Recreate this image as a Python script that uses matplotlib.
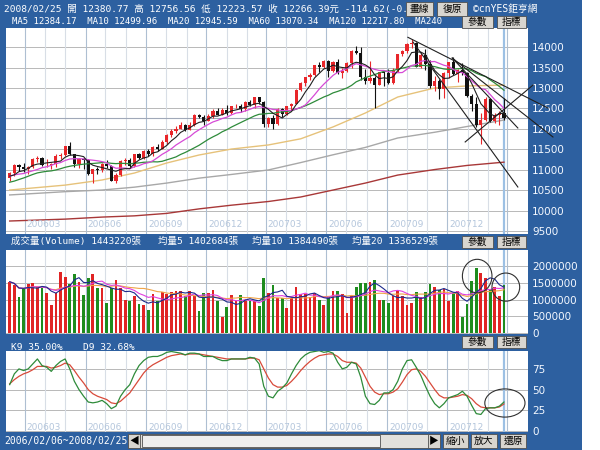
import numpy as np
import pandas as pd
import matplotlib
matplotlib.use('Agg')
import matplotlib.pyplot as plt
import matplotlib.transforms as mtransforms
from matplotlib.patches import Rectangle, Ellipse

BLUE = '#2d60a0'
MONO = ['DejaVu Sans Mono', 'Noto Sans CJK TC']
CJK = ['Noto Sans CJK TC', 'DejaVu Sans']

# weekly bars, first week 2006/02/06, last 2008/02/25
start = pd.Timestamp('2006-02-06')

prior_closes = [10569, 10292, 10288, 10215, 10403, 10531, 10686, 10766, 10931, 10878,
                10779, 10876, 10883, 10718, 10959, 10960, 10667, 10907, 10793]

opens = [10793, 10919, 11115, 11061, 11022, 11076, 11279, 11280, 11109, 11120,
         11138, 11347, 11367, 11577, 11380, 11144, 11278, 11247, 10891, 11014,
         10990, 11150, 11090, 10739, 10868, 11219, 11240, 11088, 11381, 11284,
         11464, 11392, 11560, 11509, 11679, 11850, 11960, 12002, 12090, 11986,
         12108, 12342, 12280, 12194, 12307, 12445, 12343, 12463, 12398, 12556,
         12565, 12487, 12653, 12581, 12768, 12647, 12114, 12276, 12110, 12481,
         12354, 12560, 12612, 12962, 13120, 13265, 13327, 13556, 13507, 13668,
         13424, 13639, 13360, 13409, 13611, 13908, 13851, 13265, 13182, 13240,
         13079, 13379, 13358, 13113, 13442, 13820, 13896, 14066, 14093, 13522,
         13807, 13595, 13043, 13177, 12980, 13372, 13626, 13340, 13450, 13366,
         12800, 12607, 12100, 12207, 12743, 12183, 12348, 12380.77]
highs = [10950, 11137, 11140, 11160, 11100, 11300, 11330, 11320, 11260, 11180,
         11380, 11420, 11590, 11670, 11390, 11300, 11300, 11260, 11030, 11060,
         11180, 11250, 11120, 10920, 11240, 11300, 11300, 11400, 11420, 11490,
         11500, 11580, 11630, 11720, 11880, 11990, 12070, 12170, 12130, 12170,
         12360, 12370, 12340, 12360, 12480, 12520, 12510, 12580, 12560, 12600,
         12620, 12680, 12700, 12780, 12790, 12690, 12300, 12330, 12500, 12520,
         12570, 12630, 12970, 13140, 13280, 13360, 13560, 13630, 13690, 13690,
         13660, 13700, 13500, 13630, 13920, 14020, 14000, 13470, 13660, 13300,
         13400, 13400, 13460, 13480, 13840, 13930, 14090, 14200, 14120, 13850,
         13960, 13680, 13300, 13220, 13380, 13640, 13750, 13470, 13600, 13400,
         12850, 12780, 12400, 12770, 12750, 12400, 12440, 12756.56]
lows = [10730, 10860, 10980, 10960, 10900, 11050, 11200, 11100, 11080, 11030,
        11060, 11260, 11330, 11360, 11080, 11050, 11030, 10880, 10690, 10900,
        10940, 11050, 10720, 10680, 10850, 11120, 11060, 11080, 11260, 11270,
        11330, 11340, 11460, 11500, 11640, 11810, 11900, 11990, 11940, 11980,
        12080, 12260, 12090, 12190, 12270, 12330, 12330, 12340, 12360, 12520,
        12420, 12440, 12570, 12500, 12620, 12050, 12040, 12000, 12100, 12280,
        12350, 12470, 12600, 12920, 13060, 13200, 13300, 13400, 13500, 13270,
        13400, 13330, 13250, 13400, 13500, 13830, 13200, 13100, 13120, 12520,
        13070, 13050, 13100, 13100, 13400, 13770, 13850, 13980, 13520, 13480,
        13450, 13000, 12930, 12720, 12750, 13250, 13320, 13150, 13320, 12780,
        12430, 12040, 11630, 12200, 12170, 12150, 12100, 12223.57]
closes = [10919, 11115, 11061, 11022, 11076, 11279, 11280, 11109, 11120, 11138,
          11347, 11367, 11577, 11380, 11144, 11278, 11247, 10891, 11014, 10990,
          11150, 11090, 10739, 10868, 11219, 11240, 11088, 11381, 11284, 11464,
          11392, 11560, 11509, 11679, 11850, 11960, 12002, 12090, 11986, 12108,
          12342, 12280, 12194, 12307, 12445, 12343, 12463, 12398, 12556, 12565,
          12487, 12653, 12581, 12768, 12647, 12114, 12276, 12110, 12481, 12354,
          12560, 12612, 12962, 13120, 13265, 13327, 13556, 13507, 13668, 13424,
          13639, 13360, 13409, 13611, 13908, 13851, 13265, 13182, 13240, 13079,
          13379, 13358, 13113, 13442, 13820, 13896, 14066, 14093, 13522, 13807,
          13595, 13043, 13177, 12980, 13372, 13626, 13340, 13450, 13366, 12800,
          12607, 12100, 12207, 12743, 12183, 12348, 12381, 12266.39]

# long moving averages at a few weeks
ma_weeks = [0, 12, 20, 27, 34, 41, 48, 56, 63, 70, 77, 84, 92, 99, 107]
ma60 = [10510, 10630, 10755, 10925, 11170, 11365, 11510, 11610, 11760, 12050, 12390, 12780, 13000, 13050, 13070]
ma120 = [10390, 10470, 10510, 10580, 10680, 10800, 10890, 11000, 11180, 11370, 11550, 11780, 11920, 12060, 12218]
ma240 = [9754, 9800, 9850, 9880, 9940, 10050, 10140, 10230, 10340, 10510, 10680, 10875, 11010, 11110, 11190]

# volume in millions of 張
volume_m = [1.53, 1.43, 1.07, 1.30, 1.45, 1.50, 1.37, 1.33, 1.20, 0.85,
            1.20, 1.83, 1.68, 1.45, 1.77, 1.53, 1.12, 1.63, 1.77, 1.35,
            1.35, 0.90, 1.35, 1.58, 1.35, 1.00, 0.95, 1.10, 0.87, 0.83,
            0.70, 1.15, 0.95, 1.23, 1.15, 1.22, 1.25, 1.25, 1.10, 1.25,
            1.10, 0.65, 1.18, 1.18, 1.27, 0.95, 0.47, 0.77, 1.12, 0.95,
            1.12, 0.95, 0.97, 0.95, 0.80, 1.65, 1.20, 1.43, 1.05, 1.05,
            0.75, 1.05, 1.37, 1.17, 1.17, 1.07, 1.18, 1.00, 0.85, 1.07,
            1.25, 1.25, 1.15, 0.60, 1.10, 1.38, 1.50, 1.48, 1.53, 1.57,
            1.00, 1.00, 0.90, 1.10, 1.27, 1.10, 0.85, 0.90, 1.23, 1.07,
            1.23, 1.47, 1.37, 1.27, 1.30, 0.95, 1.20, 1.25, 0.47, 0.87,
            1.55, 1.95, 1.80, 1.63, 1.30, 1.37, 1.10, 1.44]

k_vals = [56, 69, 75, 73, 75, 81, 87, 79, 77, 72, 79, 84, 87, 75, 60, 50, 42, 35, 34, 35,
          37, 33, 27, 30, 42, 50, 56, 69, 79, 85, 89, 90, 90, 92, 95, 96, 95, 94, 92, 94,
          94, 93, 90, 90, 90, 87, 85, 85, 87, 87, 87, 87, 89, 88, 81, 54, 42, 40, 48, 52,
          58, 69, 79, 87, 92, 95, 96, 97, 95, 96, 94, 83, 75, 77, 83, 81, 65, 42, 33, 32,
          37, 46, 46, 50, 60, 75, 85, 86, 77, 67, 54, 42, 33, 28, 33, 40, 42, 44, 48, 42,
          31, 21, 20, 27, 28, 28, 30, 35.00]
d_vals = [57, 62, 66, 69, 71, 74, 78, 78, 78, 76, 77, 79, 82, 80, 73, 65, 58, 50, 45, 42,
          40, 38, 34, 33, 36, 41, 46, 54, 62, 70, 76, 80, 83, 86, 89, 91, 92, 93, 92, 93,
          93, 93, 92, 91, 90, 89, 88, 87, 87, 87, 87, 87, 88, 88, 86, 75, 64, 56, 53, 53,
          55, 60, 66, 73, 79, 84, 88, 91, 92, 93, 93, 90, 85, 83, 83, 82, 76, 65, 54, 47,
          44, 45, 45, 47, 51, 59, 68, 74, 75, 72, 66, 58, 50, 43, 40, 40, 41, 42, 44, 43,
          39, 33, 29, 28, 28, 28, 29, 32.68]

# hand drawn trend lines: (week, price) -> (week, price)
trend_lines = [((86.2, 14237), (116.5, 12512)),
               ((95.8, 13732), (117.6, 11804)),
               ((87.3, 14122), (110.0, 10584)),
               ((95.8, 13732), (110.0, 12024)),
               ((98.6, 11683), (113.3, 13073))]

n = len(closes)
x = np.arange(n)
o = np.array(opens); h = np.array(highs); l = np.array(lows); c = np.array(closes)
up = c >= o
all_close = pd.Series(prior_closes + closes)
ma5 = all_close.rolling(5).mean().values[-n:]
ma10 = all_close.rolling(10).mean().values[-n:]
ma20 = all_close.rolling(20).mean().values[-n:]
vol = pd.Series(np.array(volume_m) * 1e6)
vma5 = vol.rolling(5, min_periods=1).mean()
vma10 = vol.rolling(10, min_periods=1).mean()
vma20 = vol.rolling(20, min_periods=1).mean()

months = pd.date_range('2006-03-01', '2008-03-01', freq='MS')
month_x = [(m - start).days / 7 for m in months]

fig = plt.figure(figsize=(6, 4.5), dpi=100, facecolor=BLUE)
fx = lambda px: px / 600
fy = lambda py: 1 - py / 450

ax1 = fig.add_axes([fx(6), fy(234), 522 / 600, 206 / 450])
ax2 = fig.add_axes([fx(6), fy(334), 522 / 600, 84 / 450])
ax3 = fig.add_axes([fx(6), fy(432), 522 / 600, 81 / 450])


def base(ax, ticks, labels):
    ax.set_facecolor('white')
    for s in ax.spines.values():
        s.set_visible(False)
    ax.set_xlim(-0.8, 112.2)
    ax.set_xticks([])
    ax.yaxis.tick_right()
    ax.set_yticks(ticks)
    ax.set_yticklabels(labels)
    ax.tick_params(axis='y', length=0, pad=3, labelcolor='#f4f8ff', labelsize=7.5)
    for t in ticks:
        ax.axhline(t, color='#b8b8b8', lw=0.7, zorder=0)
    for m, d in zip(month_x, months):
        quarter = d.month % 3 == 0
        ax.axvline(m, color='#aebfd2' if quarter else '#d8dee6', lw=0.8, zorder=0)
    ax.axvline(n - 1, color='#9cc0e4', lw=1.6, zorder=0.5)


def quarter_labels(ax, yfrac):
    tr = mtransforms.blended_transform_factory(ax.transData, ax.transAxes)
    for m, d in zip(month_x, months):
        if d.month % 3 == 0 and m < 105:
            ax.text(m + 0.4, yfrac, f'{d.year}{d.month:02d}', transform=tr,
                    color='#b4c6dc', fontsize=6.5, va='center', ha='left')


# price panel
pticks = list(range(9500, 14001, 500))
base(ax1, pticks, [str(t) for t in pticks])
ax1.set_ylim(9437, 14464)
ax1.axhline(closes[-1], color='#a0a8b8', lw=0.8, zorder=0.5)
quarter_labels(ax1, 0.045)
ax1.plot(ma_weeks, ma240, color='#a83838', lw=1.0, zorder=1)
ax1.plot(ma_weeks, ma120, color='#a8a8a8', lw=1.0, zorder=1)
ax1.plot(ma_weeks, ma60, color='#e6c27a', lw=1.0, zorder=1)
cc = np.where(up, '#e8262a', '#111111')
ax1.vlines(x, l, h, color=cc, lw=0.8, zorder=2)
ax1.bar(x, np.maximum(np.abs(c - o), 8), bottom=np.minimum(o, c), width=0.68,
        color=cc, zorder=2)
ax1.plot(x, ma20, color='#2e8b3a', lw=0.9, zorder=3)
ax1.plot(x, ma10, color='#d64ad6', lw=0.9, zorder=3)
ax1.plot(x, ma5, color='#202020', lw=0.8, zorder=3)
for (x0, y0), (x1, y1) in trend_lines:
    ax1.plot([x0, x1], [y0, y1], color='#202020', lw=0.8, zorder=4, clip_on=False)

# volume panel
vticks = [0, 500000, 1000000, 1500000, 2000000]
base(ax2, vticks, [str(t) for t in vticks])
ax2.set_ylim(-30000, 2478000)
ax2.bar(x, vol, width=0.6, color=np.where(up, '#e02424', '#1e8c1e'), zorder=2)
ax2.plot(x, vma20, color='#f0a448', lw=0.8, zorder=3)
ax2.plot(x, vma10, color='#e040e0', lw=0.8, zorder=3)
ax2.plot(x, vma5, color='#1c2a8c', lw=0.8, zorder=3)
ax2.add_patch(Ellipse((101.2, 1.70e6), 6.4, 1.0e6, fill=False, ec='#303030', lw=0.8, zorder=4))
ax2.add_patch(Ellipse((107.4, 1.37e6), 6.0, 0.84e6, fill=False, ec='#303030', lw=0.8,
                      zorder=4, clip_on=False))

# KD panel
kticks = [0, 25, 50, 75]
base(ax3, kticks, [str(t) for t in kticks])
ax3.set_ylim(-1.2, 96.6)
quarter_labels(ax3, 0.06)
ax3.plot(x, d_vals, color='#d84a3a', lw=0.9, zorder=2)
ax3.plot(x, k_vals, color='#2e8b3a', lw=0.9, zorder=2)
ax3.add_patch(Ellipse((107.2, 33.8), 8.7, 34, fill=False, ec='#303030', lw=0.8,
                      zorder=4, clip_on=False))

# header texts
def label(px, py, s, size=6.8, family=MONO, color='white'):
    fig.text(fx(px), fy(py), s, fontsize=size, family=family, color=color,
             va='center', ha='left', zorder=3)


label(4, 9, '2008/02/25 開 12380.77 高 12756.56 低 12223.57 收 12266.39元 -114.62(-0.')
label(473, 9, '©cnYES鉅亨網', size=7)
label(12, 22, 'MA5 12384.17  MA10 12499.96  MA20 12945.59  MA60 13070.34  MA120 12217.80  MA240',
      size=6.45)
label(11, 241, '成交量(Volume) 1443220張')
label(158, 241, '均量5 1402684張')
label(252, 241, '均量10 1384490張')
label(352, 241, '均量20 1336529張')
label(11, 347, 'K9 35.00%')
label(83, 347, 'D9 32.68%')
label(4, 441, '2006/02/06~2008/02/25', size=7)


def button(x0, x1, y0, y1, s, fc='#d8d5cf'):
    fig.add_artist(Rectangle((fx(x0), fy(y1)), (x1 - x0) / 600, (y1 - y0) / 450,
                             transform=fig.transFigure, fc=fc, ec='#505050', lw=0.6, zorder=5))
    if s:
        fig.text(fx((x0 + x1) / 2), fy((y0 + y1) / 2), s, fontsize=7, family=CJK,
                 color='black', ha='center', va='center', zorder=6)


button(406, 433, 2, 16, '畫線')
button(437, 467, 2, 16, '復原')
for yy in [(16, 28), (236, 248), (336, 348)]:
    button(462, 493, yy[0], yy[1], '參數')
    button(497, 526, yy[0], yy[1], '指標')

# scroll bar
button(128, 440, 434, 448, '', fc='#e2e0dc')
button(142, 380, 435, 447, '', fc='#eeeeee')
button(128, 140, 434, 448, '◀')
button(428, 440, 434, 448, '▶')
button(443, 468, 434, 448, '縮小')
button(471, 497, 434, 448, '放大')
button(500, 526, 434, 448, '還原')

fig.add_artist(Rectangle((fx(582), 0), 18 / 600, 1, transform=fig.transFigure,
                         fc='white', ec='none', zorder=5))

fig.savefig('out.png', dpi=100, facecolor=BLUE)
